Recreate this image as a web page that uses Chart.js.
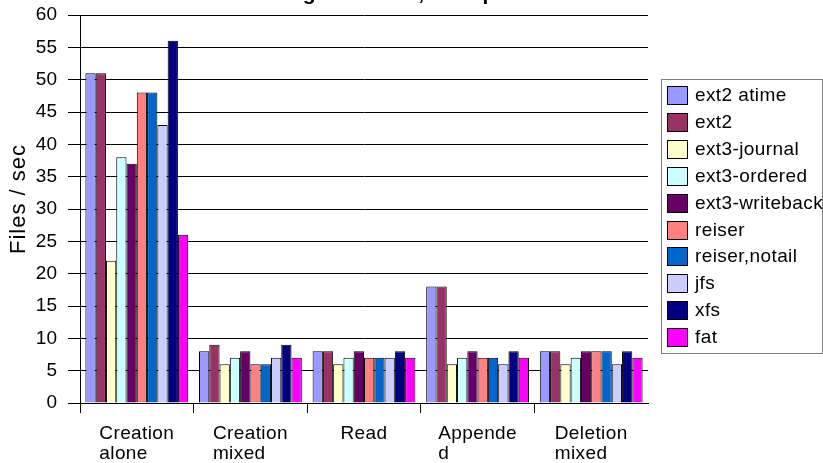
<!DOCTYPE html>
<html>
<head>
<meta charset="utf-8">
<script src="https://cdn.jsdelivr.net/npm/chart.js@4/dist/chart.umd.min.js"></script>
<style>
  html, body { margin: 0; padding: 0; background: #fff; overflow: hidden; }
  #wrap { width: 823px; height: 463px; }
</style>
</head>
<body>
<div id="wrap"><canvas id="fsChart" width="823" height="463"></canvas></div>
<script>
const chartTitle = 'Large files test, 1000 procs';
const yAxisTitle = 'Files / sec';
const categories = [['Creation', 'alone'], ['Creation', 'mixed'], ['Read'], ['Appende', 'd'], ['Deletion', 'mixed']];
const yTicks = [0, 5, 10, 15, 20, 25, 30, 35, 40, 45, 50, 55, 60];

// files / sec per test, one array per filesystem
const ext2Atime     = [51, 8, 8, 18, 8];
const ext2          = [51, 9, 8, 18, 8];
const ext3Journal   = [22, 6, 6, 6, 6];
const ext3Ordered   = [38, 7, 7, 7, 7];
const ext3Writeback = [37, 8, 8, 8, 8];
const reiser        = [48, 6, 7, 7, 8];
const reiserNotail  = [48, 6, 7, 7, 8];
const jfs           = [43, 7, 7, 6, 6];
const xfs           = [56, 9, 8, 8, 8];
const fat           = [26, 7, 7, 7, 7];

const series = [
    { label: 'ext2 atime', data: ext2Atime, color: '#9999ff' },
    { label: 'ext2', data: ext2, color: '#993366' },
    { label: 'ext3-journal', data: ext3Journal, color: '#ffffcc' },
    { label: 'ext3-ordered', data: ext3Ordered, color: '#ccffff' },
    { label: 'ext3-writeback', data: ext3Writeback, color: '#660066' },
    { label: 'reiser', data: reiser, color: '#ff8080' },
    { label: 'reiser,notail', data: reiserNotail, color: '#0066cc' },
    { label: 'jfs', data: jfs, color: '#ccccff' },
    { label: 'xfs', data: xfs, color: '#000080' },
    { label: 'fat', data: fat, color: '#ff00ff' }
];

const FONT = '"Liberation Sans", Arial, sans-serif';
Chart.defaults.font.family = FONT;
Chart.defaults.color = '#000';

// title sits mostly above the top edge, only the descenders show
const titleText = {
    id: 'titleText',
    afterDraw(chart) {
        const ctx = chart.ctx;
        ctx.save();
        ctx.font = 'bold 21px ' + FONT;
        ctx.fillStyle = '#000';
        ctx.textAlign = 'left';
        ctx.textBaseline = 'alphabetic';
        ctx.fillText(chartTitle, 270, 0);
        ctx.restore();
    }
};

// rotated y axis title, a little above the middle of the plot
const axisTitle = {
    id: 'axisTitle',
    afterDraw(chart) {
        const ctx = chart.ctx;
        const area = chart.chartArea;
        ctx.save();
        ctx.translate(19, (area.top + area.bottom) / 2 - 10);
        ctx.rotate(-Math.PI / 2);
        ctx.font = '22px ' + FONT;
        ctx.letterSpacing = '1px';
        ctx.fillStyle = '#000';
        ctx.textAlign = 'center';
        ctx.textBaseline = 'middle';
        ctx.fillText(yAxisTitle, 0, 0);
        ctx.restore();
    }
};

// category labels: block centred on the category, lines left aligned
const categoryLabels = {
    id: 'categoryLabels',
    afterDraw(chart) {
        const ctx = chart.ctx;
        const x = chart.scales.x;
        ctx.save();
        ctx.font = '19px ' + FONT;
        ctx.letterSpacing = '0.4px';
        ctx.fillStyle = '#000';
        ctx.textAlign = 'left';
        ctx.textBaseline = 'alphabetic';
        categories.forEach((lines, i) => {
            const cx = x.getPixelForTick(i);
            const w = Math.max(...lines.map(t => ctx.measureText(t).width));
            lines.forEach((t, k) => ctx.fillText(t, cx - w / 2, x.top + 36 + k * 20));
        });
        ctx.restore();
    }
};

// legend with a grey frame, to the right of the plot
const boxedLegend = {
    id: 'boxedLegend',
    afterDraw(chart) {
        const ctx = chart.ctx;
        const left = chart.chartArea.right + 13;
        const top = 79;
        ctx.save();
        ctx.strokeStyle = '#808080';
        ctx.lineWidth = 1;
        ctx.strokeRect(left + 0.5, top + 0.5, 161, 274);
        ctx.font = '19px ' + FONT;
        ctx.letterSpacing = '0.4px';
        ctx.textBaseline = 'middle';
        chart.data.datasets.forEach((ds, i) => {
            const cy = Math.round(top + 16 + i * 26.9);
            ctx.fillStyle = ds.backgroundColor;
            ctx.fillRect(left + 6, cy - 9, 20, 18);
            ctx.strokeStyle = '#000';
            ctx.strokeRect(left + 6.5, cy - 8.5, 20, 18);
            ctx.fillStyle = '#000';
            ctx.fillText(ds.label, left + 34, cy + 1);
        });
        ctx.restore();
    }
};

const ctx = document.getElementById('fsChart').getContext('2d');
new Chart(ctx, {
    type: 'bar',
    data: {
        labels: categories,
        datasets: series.map(s => ({
            label: s.label,
            data: s.data,
            backgroundColor: s.color,
            borderColor: '#000',
            borderWidth: 1,
            categoryPercentage: 0.905,
            barPercentage: 1.0
        }))
    },
    options: {
        responsive: false,
        animation: false,
        layout: { padding: { top: 15, right: 175, left: 0, bottom: 0 } },
        plugins: {
            legend: { display: false },
            tooltip: { enabled: false }
        },
        scales: {
            x: {
                grid: {
                    offset: true,
                    drawOnChartArea: false,
                    tickLength: 10,
                    // no tick mark at the far right end
                    color: c => c.index === undefined ? 'rgba(0,0,0,0)' : '#000'
                },
                border: { color: '#000', width: 1 },
                ticks: { display: false },
                afterFit: s => { s.height = 60; }
            },
            y: {
                min: 0,
                max: 60,
                afterBuildTicks: s => { s.ticks = yTicks.map(v => ({ value: v })); },
                grid: { color: '#000', tickLength: 12 },
                border: { color: '#000', width: 1 },
                ticks: { font: { size: 19 }, color: '#000', padding: 11 },
                afterFit: s => {
                    s.width = 80;
                    s.paddingTop = 0;
                    s.paddingBottom = 0;
                }
            }
        }
    },
    plugins: [titleText, axisTitle, categoryLabels, boxedLegend]
});
</script>
</body>
</html>
